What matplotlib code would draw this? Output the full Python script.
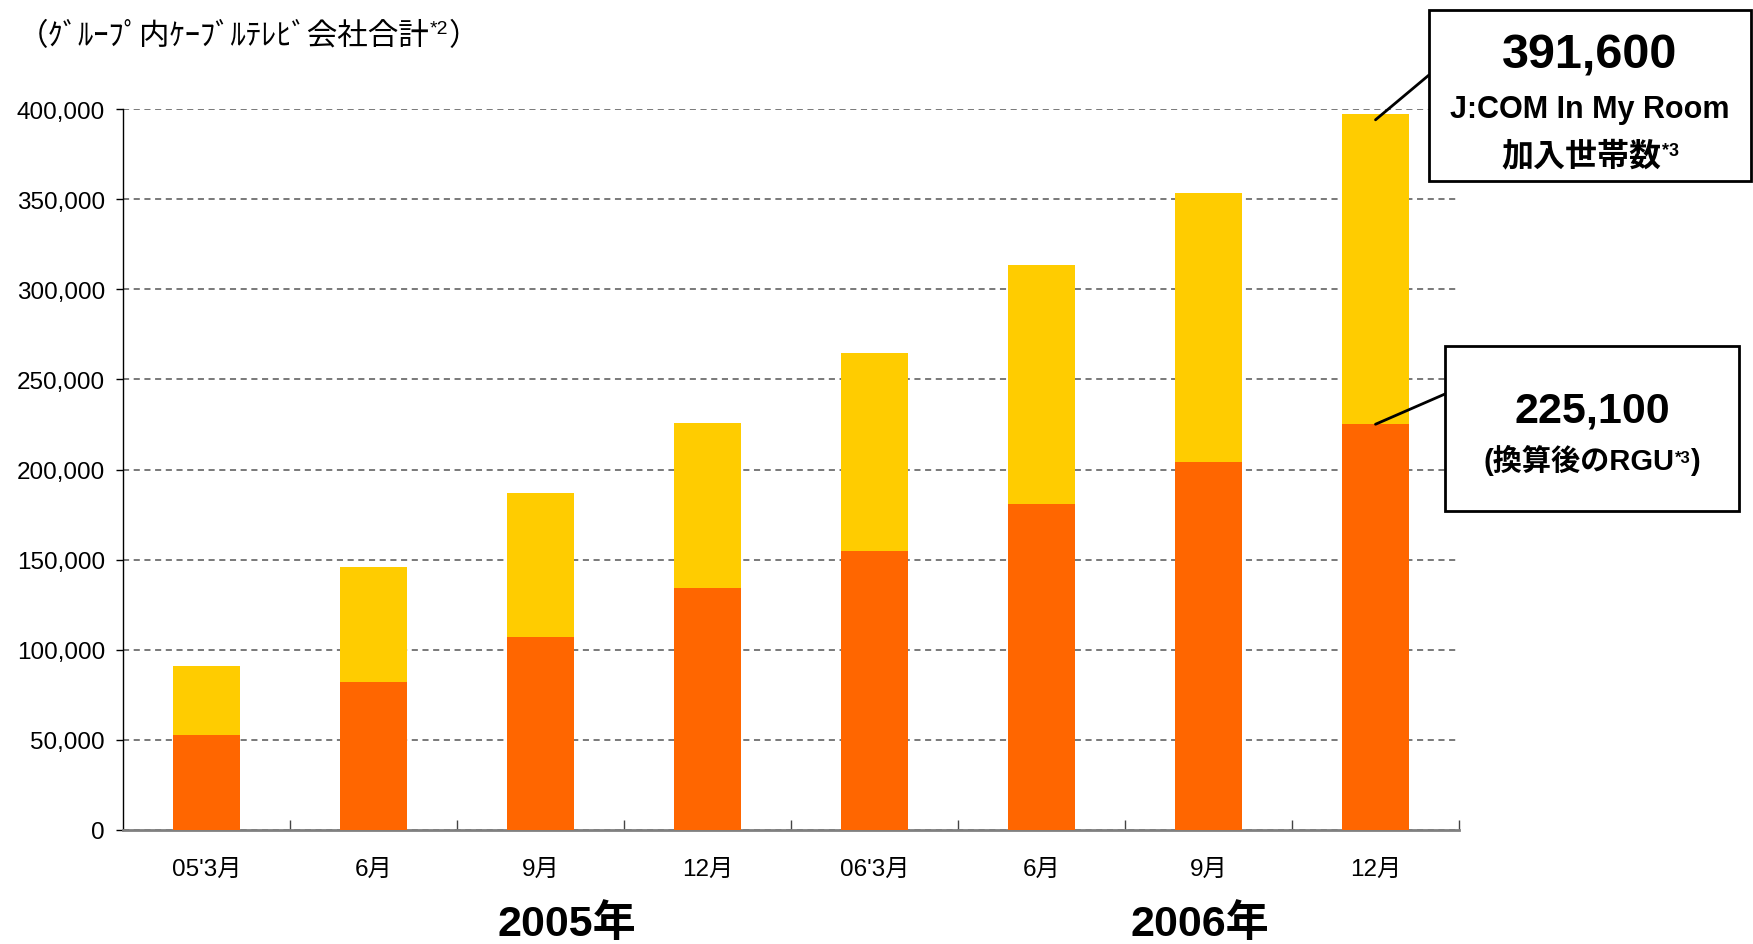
import matplotlib
matplotlib.use("Agg")
import matplotlib.pyplot as plt
from matplotlib.patches import Rectangle
from matplotlib.ticker import FuncFormatter, MultipleLocator, FixedLocator

# 数値は図から読み取り（J:COM In My Room 加入世帯数 / 換算後のRGU）
labels = ["05'3月", "6月", "9月", "12月", "06'3月", "6月", "9月", "12月"]
households = [91000, 145800, 187200, 225600, 264500, 313300, 353300, 397000]
rgu = [52800, 82000, 107200, 134400, 154900, 180600, 203900, 225100]
years = ["2005年", "2006年"]

JP = ["Liberation Sans", "Noto Sans CJK JP", "DejaVu Sans"]
plt.rcParams["font.family"] = JP

W, H = 1753, 945
fig = plt.figure(figsize=(W / 100, H / 100), dpi=100)
ax = fig.add_axes([123 / W, 1 - 831 / H, (1459 - 123) / W, (831 - 110) / H])

x = list(range(len(labels)))
ax.bar(x, households, width=0.4, color="#FFCC00", zorder=2)
ax.bar(x, rgu, width=0.4, color="#FF6600", zorder=3)

ax.set_xlim(-0.5, len(labels) - 0.5)
ax.set_ylim(0, 400000)
ax.yaxis.set_major_locator(MultipleLocator(50000))
ax.yaxis.set_major_formatter(FuncFormatter(lambda v, p: f"{int(v):,}"))
ax.grid(axis="y", color="#555555", linestyle=(0, (4, 3)), linewidth=1.1, zorder=1)
ax.set_axisbelow(True)

# 目盛り: ラベルは棒の中央、目盛り線は区切り位置
ax.set_xticks(x)
ax.set_xticklabels(labels, fontsize=17.5)
ax.xaxis.set_minor_locator(FixedLocator([i + 0.5 for i in x]))
ax.tick_params(axis="x", which="major", length=0, pad=20)
ax.tick_params(axis="x", which="minor", direction="in", length=7, width=1, color="#444444")
ax.tick_params(axis="y", direction="out", length=5, width=1, labelsize=17.5, pad=8)

for s in ["top", "right"]:
    ax.spines[s].set_visible(False)
ax.spines["left"].set_color("black")
ax.spines["left"].set_linewidth(1)
ax.spines["bottom"].set_color("#808080")
ax.spines["bottom"].set_linewidth(2)

renderer = fig.canvas.get_renderer()


def put_line(xc, yb, pieces, align="center"):
    """複数の文字片（上付き含む）を一行に並べる。pieces: (文字, サイズ, 太さ, 上げ幅px)"""
    objs = []
    for s, size, weight, rise in pieces:
        t = fig.text(0, yb, s, fontsize=size, fontweight=weight, family=JP,
                     ha="left", va="baseline", zorder=10)
        objs.append((t, rise))
    widths = [t.get_window_extent(renderer).width for t, _ in objs]
    cur = xc * W - (sum(widths) / 2 if align == "center" else 0)
    for (t, rise), w in zip(objs, widths):
        t.set_position((cur / W, yb + rise / H))
        cur += w


# 左上の注記
put_line(18 / W, 1 - 45 / H,
         [("（ｸﾞﾙｰﾌﾟ内ｹｰﾌﾞﾙﾃﾚﾋﾞ会社合計", 22, "normal", 0),
          ("*2", 14, "normal", 11),
          ("）", 22, "normal", 0)], align="left")

# 年ラベル
fig.text(567 / W, 0.010, years[0], fontsize=31, fontweight="bold", ha="center", va="baseline")
fig.text(1200 / W, 0.010, years[1], fontsize=31, fontweight="bold", ha="center", va="baseline")

# 吹き出しボックス
fig.patches.append(Rectangle((1429 / W, 1 - 182 / H), (1751 - 1429) / W, (182 - 11) / H,
                             transform=fig.transFigure, facecolor="white",
                             edgecolor="black", linewidth=2, zorder=5))
fig.patches.append(Rectangle((1445 / W, 1 - 512 / H), (1739 - 1445) / W, (512 - 347) / H,
                             transform=fig.transFigure, facecolor="white",
                             edgecolor="black", linewidth=2, zorder=5))

xc1 = (1429 + 1751) / 2 / W
put_line(xc1, 1 - 68 / H, [(f"{391600:,}", 35, "bold", 0)])
put_line(xc1, 1 - 118 / H, [("J:COM In My Room", 22, "bold", 0)])
put_line(xc1, 1 - 165 / H, [("加入世帯数", 23, "bold", 0), ("*3", 13, "bold", 9)])

xc2 = (1445 + 1739) / 2 / W
put_line(xc2, 1 - 423 / H, [(f"{rgu[-1]:,}", 31, "bold", 0)])
put_line(xc2, 1 - 470 / H, [("(換算後のRGU", 21, "bold", 0), ("*3", 12, "bold", 7),
                            (")", 21, "bold", 0)])

# 引き出し線
ax.annotate("", xy=(7, households[-1] - 3000), xytext=(1429 / W, 1 - 76 / H),
            textcoords="figure fraction",
            arrowprops=dict(arrowstyle="-", lw=2, color="black", shrinkA=0, shrinkB=0),
            annotation_clip=False)
ax.annotate("", xy=(7, rgu[-1]), xytext=(1445 / W, 1 - 395 / H),
            textcoords="figure fraction",
            arrowprops=dict(arrowstyle="-", lw=2, color="black", shrinkA=0, shrinkB=0),
            annotation_clip=False)

fig.savefig("out.png", dpi=100, facecolor="white")
